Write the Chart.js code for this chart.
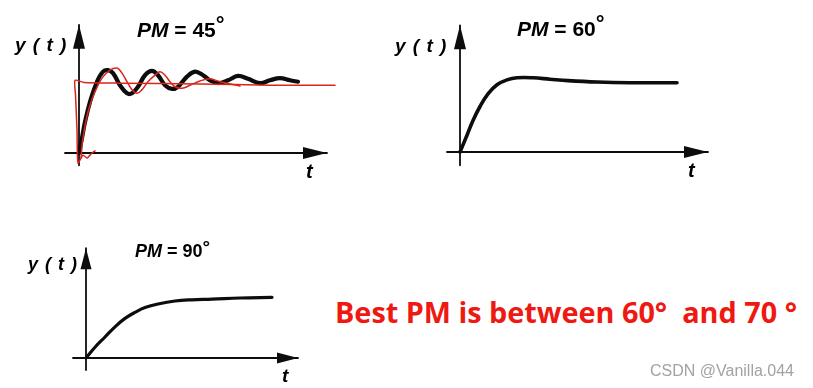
<!DOCTYPE html>
<html>
<head>
<meta charset="utf-8">
<script src="https://cdn.jsdelivr.net/npm/chart.js@4/dist/chart.umd.min.js"></script>
<style>
  body { margin: 0; background: #fff; }
  #page { position: relative; width: 813px; height: 388px; overflow: hidden; background: #fff; }
  canvas { position: absolute; }
  .lbl { position: absolute; line-height: 1; white-space: pre; color: #000;
         font-family: "Liberation Sans", Arial, sans-serif; font-weight: bold; }
  .it { font-style: italic; }
  .deg { position: relative; top: -0.22em; font-size: 1.05em; }
  #note { position: absolute; left: 335px; top: 298px; line-height: 1; white-space: pre;
          font-family: "Open Sans", sans-serif; font-weight: bold; font-size: 28px;
          color: #ee1a12; transform-origin: 0 0; }
  #mark { position: absolute; left: 650px; top: 363px; line-height: 1; white-space: pre;
          font-family: "Liberation Sans", Arial, sans-serif; font-size: 16px; color: #a2a2a2; }
</style>
</head>
<body>
<div id="page">
  <canvas id="c45" width="340" height="190" style="left:0;top:0"></canvas>
  <canvas id="c60" width="360" height="190" style="left:380px;top:0"></canvas>
  <canvas id="c90" width="300" height="168" style="left:0;top:220px"></canvas>

  <div class="lbl" style="left:137px;top:19px;font-size:21px"><span class="it">PM</span> = 45<span class="deg">°</span></div>
  <div class="lbl it" style="left:15px;top:35px;font-size:19px;letter-spacing:1px">y ( t )</div>
  <div class="lbl it" style="left:306px;top:161px;font-size:20px">t</div>

  <div class="lbl" style="left:517px;top:18px;font-size:21px"><span class="it">PM</span> = 60<span class="deg">°</span></div>
  <div class="lbl it" style="left:395px;top:36px;font-size:19px;letter-spacing:1px">y ( t )</div>
  <div class="lbl it" style="left:688px;top:160px;font-size:20px">t</div>

  <div class="lbl" style="left:135px;top:242px;font-size:18px"><span class="it">PM</span> = 90<span class="deg">°</span></div>
  <div class="lbl it" style="left:28px;top:255px;font-size:18px;letter-spacing:1px">y ( t )</div>
  <div class="lbl it" style="left:282px;top:366px;font-size:19px">t</div>

  <div id="note">Best PM is between 60°  and 70 °</div>
  <div id="mark">CSDN @Vanilla.044</div>
</div>

<script>
// step responses, t in arbitrary time units, y normalised to the final value

// PM = 45 deg (printed black curve)
const t45 = [0, 0.12, 0.24, 0.44, 0.72, 0.96, 1.16, 1.36, 1.64, 1.92, 2.12, 2.36, 2.64, 2.92, 3.16, 3.44,
             3.72, 3.96, 4.32, 4.64, 4.96, 5.24, 5.56, 5.96, 6.36, 6.76, 7.24, 7.64, 8.04, 8.44, 8.76];
const y45 = [0, 0.21, 0.43, 0.71, 0.99, 1.13, 1.15, 1.11, 0.94, 0.83, 0.83, 0.92, 1.08, 1.14, 1.08, 0.94,
             0.89, 0.92, 1.06, 1.13, 1.08, 1.01, 0.97, 1.01, 1.07, 1.03, 0.97, 1.01, 1.04, 1.01, 0.99];

// red pen sketch on top of the 45 deg plot: ringing curve
const tPen = [0.08, 0.16, 0.36, 0.64, 0.92, 1.24, 1.52, 1.72, 1.92, 2.12, 2.32, 2.52, 2.76, 3.04, 3.24, 3.44,
              3.64, 3.84, 4.12, 4.44, 4.84, 5.24, 5.64, 6.44];
const yPen = [-0.07, 0.21, 0.57, 0.85, 1.04, 1.15, 1.18, 1.11, 0.99, 0.88, 0.83, 0.88, 0.99, 1.08, 1.13, 1.08,
              0.99, 0.92, 0.90, 0.94, 1.0, 1.03, 0.99, 0.93];
// red pen sketch: drop at t=0 and the final-value guide line
const tGuide = [0.64, 0.52, 0.32, 0.16, -0.04, -0.08, -0.14, -0.16, 0.2, 1.64, 4.84, 7.64, 10.24];
const yGuide = [0.03, 0, -0.07, -0.03, -0.14, 0.32, 0.81, 1.01, 0.98, 0.97, 0.96, 0.94, 0.94];

// PM = 60 deg
const t60 = [0, 0.28, 0.52, 0.8, 1.12, 1.48, 1.88, 2.28, 2.92, 3.6, 4.32, 5.48, 6.8, 8.68];
const y60 = [0, 0.24, 0.45, 0.65, 0.83, 0.96, 1.03, 1.06, 1.06, 1.04, 1.02, 1.0, 0.99, 0.99];

// PM = 90 deg
const t90 = [0, 0.36, 0.76, 1.16, 1.56, 1.96, 2.36, 2.88, 3.56, 4.24, 5.04, 6.16, 7.44];
const y90 = [0, 0.18, 0.35, 0.52, 0.66, 0.76, 0.84, 0.9, 0.95, 0.97, 0.98, 1.0, 1.01];

// axis extents (start, arrow tip) for each plot
const axisT45 = [-0.56, 9.92], axisY45 = [-0.17, 1.78];
const axisT60 = [-0.52, 9.92], axisY60 = [-0.19, 1.81];
const axisT90 = [-0.52, 8.48], axisY90 = [-0.2, 1.83];

const INK = '#0d0d0d';
const PEN = '#d8261c';

const pts = (xs, ys) => xs.map((x, i) => ({ x, y: ys[i] }));

// filled arrow head at the last point of every dataset flagged with arrow:true
const arrowHeads = {
  id: 'arrowHeads',
  afterDatasetsDraw(chart, args, opts) {
    const ctx = chart.ctx;
    chart.data.datasets.forEach((ds, i) => {
      if (!ds.arrow) return;
      const el = chart.getDatasetMeta(i).data;
      const a = el[el.length - 2], b = el[el.length - 1];
      const ang = Math.atan2(b.y - a.y, b.x - a.x);
      ctx.save();
      ctx.translate(b.x, b.y);
      ctx.rotate(ang);
      ctx.beginPath();
      ctx.moveTo(0, 0);
      ctx.lineTo(-opts.length, -opts.width / 2);
      ctx.lineTo(-opts.length, opts.width / 2);
      ctx.closePath();
      ctx.fillStyle = ds.borderColor;
      ctx.fill();
      ctx.restore();
    });
  }
};

function axisSets(axT, axY) {
  return [
    { data: pts(axT, [0, 0]), borderColor: INK, borderWidth: 1.8, arrow: true, order: 3, tension: 0 },
    { data: pts([0, 0], axY), borderColor: INK, borderWidth: 1.8, arrow: true, order: 3, tension: 0 }
  ];
}

// view: where the origin sits in the canvas and how many px one unit takes
function drawPlot(id, view, datasets, arrow) {
  const cv = document.getElementById(id);
  const W = cv.width, H = cv.height;
  new Chart(cv, {
    type: 'line',
    data: { datasets },
    options: {
      responsive: false,
      animation: false,
      events: [],
      layout: { padding: 0 },
      elements: { point: { radius: 0 }, line: { fill: false, tension: 0.4, borderCapStyle: 'round', borderJoinStyle: 'round' } },
      scales: {
        x: { type: 'linear', display: false, min: -view.ox / view.sx, max: (W - view.ox) / view.sx },
        y: { type: 'linear', display: false, min: -(H - view.oy) / view.sy, max: view.oy / view.sy }
      },
      plugins: { legend: { display: false }, tooltip: { enabled: false }, arrowHeads: arrow }
    },
    plugins: [arrowHeads]
  });
}

drawPlot('c45', { ox: 79, oy: 153, sx: 25, sy: 72 }, [
  ...axisSets(axisT45, axisY45),
  { data: pts(t45, y45), borderColor: INK, borderWidth: 4.2, order: 2 },
  { data: pts(tGuide, yGuide), borderColor: PEN, borderWidth: 1.5, tension: 0.2, order: 1 },
  { data: pts(tPen, yPen), borderColor: PEN, borderWidth: 1.5, order: 0 }
], { length: 24, width: 12 });

drawPlot('c60', { ox: 80, oy: 152, sx: 25, sy: 70 }, [
  ...axisSets(axisT60, axisY60),
  { data: pts(t60, y60), borderColor: INK, borderWidth: 3.6, order: 1 }
], { length: 24, width: 12 });

drawPlot('c90', { ox: 86, oy: 138, sx: 25, sy: 60 }, [
  ...axisSets(axisT90, axisY90),
  { data: pts(t90, y90), borderColor: INK, borderWidth: 3.2, order: 1 }
], { length: 21, width: 11 });

// squeeze the red remark to the width it has in the slide
const note = document.getElementById('note');
note.style.transform = 'scaleX(' + (462 / note.getBoundingClientRect().width) + ')';
</script>
</body>
</html>
